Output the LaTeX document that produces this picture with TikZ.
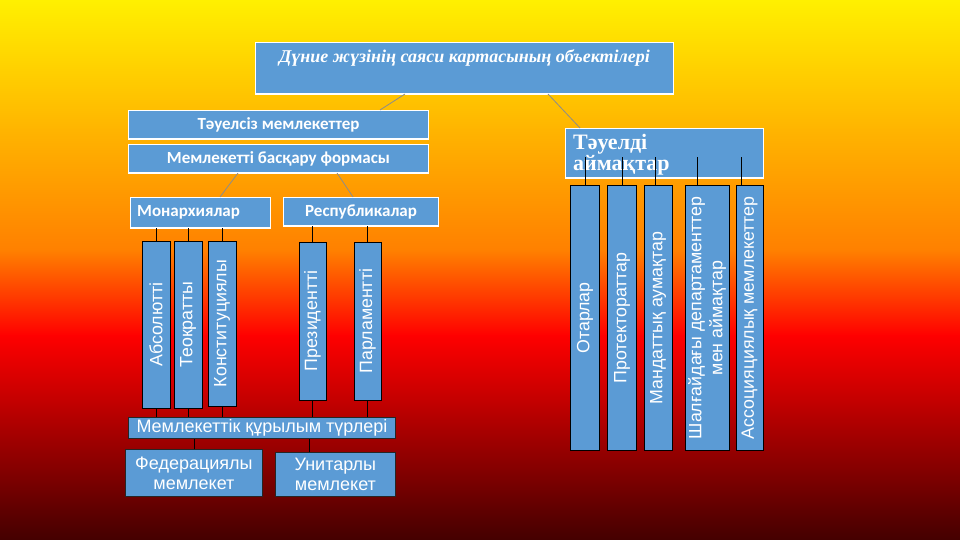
\documentclass[tikz,border=0pt]{standalone}
\usepackage{fontspec}
\setmainfont{Liberation Sans}
\newfontfamily\calibrif{Carlito}
\newfontfamily\timesf{Liberation Serif}
\usetikzlibrary{calc}
\definecolor{bxblue}{HTML}{5B9BD5}
\definecolor{bgA}{HTML}{FFF000}
\definecolor{bgB}{HTML}{FFB400}
\definecolor{bgC}{HTML}{FF8000}
\definecolor{bgD}{HTML}{FF0000}
\definecolor{bgE}{HTML}{440000}
\definecolor{gline}{HTML}{8C8C8C}
\tikzset{
  topbox/.style={draw=white, line width=1pt, fill=bxblue, inner sep=0pt, anchor=north west},
  darkbox/.style={draw=black!85, line width=0.8pt, fill=bxblue, inner sep=0pt, anchor=north west, text=white},
  vbox/.style={draw=black, line width=0.8pt, fill=bxblue, rotate=90, inner sep=0pt, text=white,
     font=\fontsize{17.8}{21}\selectfont, align=center},
  conn/.style={draw=black, line width=0.8pt},
  gconn/.style={draw=gline, line width=0.8pt},
  boldlbl/.style={text=white, font=\calibrif\bfseries\fontsize{17}{20}\selectfont, inner sep=0pt},
}
\begin{document}
\begin{tikzpicture}[x=1pt,y=-1pt]
\useasboundingbox (0,0) rectangle (960,540);
% background
\shade[top color=bgA, bottom color=bgB] (0,0) rectangle (960,131);
\shade[top color=bgB, bottom color=bgC] (0,130) rectangle (960,251);
\shade[top color=bgC, bottom color=bgD] (0,250) rectangle (960,336);
\shade[top color=bgD, bottom color=bgE] (0,335) rectangle (960,540);

% title
\node[topbox, minimum width=418pt, minimum height=51pt] (title) at (255,42) {};
\draw[white, line width=2.5pt] (title.south west) -- (title.south east);
\node[text=white, font=\timesf\bfseries\itshape\fontsize{18}{21}\selectfont, inner sep=0pt]
  (titletext) at ([yshift=-16pt]title.north) {Дүние жүзінің саяси картасының объектілері};

% left top boxes
\node[topbox, minimum width=300pt, minimum height=28pt] (tauels) at (128,110) {};
\draw[white, line width=2.5pt] (tauels.south west) -- (tauels.south east);
\node[boldlbl] (tauelstext) at (tauels.center) {Тәуелсіз мемлекеттер};
\node[topbox, minimum width=300pt, minimum height=28pt] (bas) at (128,144) {};
\draw[white, line width=2.5pt] (bas.south west) -- (bas.south east);
\node[boldlbl] (bastext) at (bas.center) {Мемлекетті басқару формасы};

\node[topbox, minimum width=140pt, minimum height=30pt] (mon) at (130,197) {};
\draw[white, line width=2.5pt] (mon.south west) -- (mon.south east);
\node[boldlbl, anchor=west] (montext) at ([xshift=7pt]mon.west) {Монархиялар};
\node[topbox, minimum width=155pt, minimum height=28pt] (resp) at (283,197) {};
\draw[white, line width=2.5pt] (resp.south west) -- (resp.south east);
\node[boldlbl] (resptext) at (resp.center) {Республикалар};

% right top box
\node[topbox, minimum width=198pt, minimum height=49pt] (taud) at (565,128) {};
\draw[white, line width=2.5pt] (taud.south west) -- (taud.south east);
\node[text=white, font=\timesf\bfseries\fontsize{22}{21}\selectfont, inner sep=0pt, align=left, anchor=north west]
  (taudtext) at ([xshift=8pt,yshift=-6pt]taud.north west) {Тәуелді\\аймақтар};

% grey connectors
\draw[gconn] ([xshift=150pt]title.south west) -- ([xshift=252pt]tauels.north west);
\draw[gconn] ([xshift=293pt]title.south west) -- ([xshift=15pt]taud.north west);
\draw[gconn] ([xshift=110pt]bas.south west) -- ([xshift=90pt]mon.north west);
\draw[gconn] ([xshift=209pt]bas.south west) -- ([xshift=70pt]resp.north west);

% left vertical boxes
\node[vbox, minimum width=167pt, minimum height=28pt] (abs) at (156,324.5) {Абсолютті};
\node[vbox, minimum width=167pt, minimum height=28pt] (teo) at (188,324.5) {Теократты};
\node[vbox, minimum width=165pt, minimum height=28pt] (kon) at (222,323.5) {Конституциялы};
\node[vbox, minimum width=158pt, minimum height=27pt] (pres) at (312.5,321) {Президентті};
\node[vbox, minimum width=158pt, minimum height=27pt] (parl) at (367.5,321) {Парламентті};

% bottom boxes
\node[darkbox, minimum width=267pt, minimum height=21pt, font=\fontsize{18}{20}\selectfont] (mem) at (128,417) {Мемлекеттік құрылым түрлері};
\node[darkbox, minimum width=137pt, minimum height=47pt, align=center, font=\fontsize{18}{20}\selectfont] (fed) at (125,449) {Федерациялы\\мемлекет};
\node[darkbox, minimum width=120pt, minimum height=44pt, align=center, font=\fontsize{18}{20}\selectfont] (unit) at (275,452) {Унитарлы\\мемлекет};

% left connectors
\foreach \b/\p in {abs/mon, teo/mon, kon/mon, pres/resp, parl/resp}{
  \draw[conn] (\b.east) -- (\b.east |- \p.south);
  \draw[conn] (\b.west) -- (\b.west |- mem.north);
}
\draw[conn] (fed.north) -- (fed.north |- mem.south);
\draw[conn] ([xshift=-26pt]unit.north) -- ([xshift=-26pt]unit.north |- mem.south);

% right vertical boxes
\node[vbox, minimum width=265pt, minimum height=29pt] (otar) at (585,318) {Отарлар};
\node[vbox, minimum width=265pt, minimum height=29pt] (prot) at (622,318) {Протектораттар};
\node[vbox, minimum width=265pt, minimum height=28pt] (mand) at (658,318) {Мандаттық аумақтар};
\node[vbox, minimum width=265pt, minimum height=44pt] (shal) at (707,318) {Шалғайдағы департаменттер\\мен аймақтар};
\node[vbox, minimum width=265pt, minimum height=27pt] (assoc) at (749.5,318) {Ассоцияциялық мемлекеттер};

% right connectors
\draw[conn] (otar.east) -- ($(otar.east |- taud.south)+(0,-21)$);
\draw[conn] (prot.east) -- ($(prot.east |- taud.south)+(0,-21)$);
\draw[conn] ([xshift=-3pt]mand.east) -- ($([xshift=-3pt]mand.east |- taud.south)+(0,-21)$);
\draw[conn] ([xshift=-10pt]shal.east) -- ($([xshift=-10pt]shal.east |- taud.south)+(0,-21)$);
\draw[conn] ([xshift=-8pt]assoc.east) -- ($([xshift=-8pt]assoc.east |- taud.south)+(0,-21)$);
\end{tikzpicture}
\end{document}
